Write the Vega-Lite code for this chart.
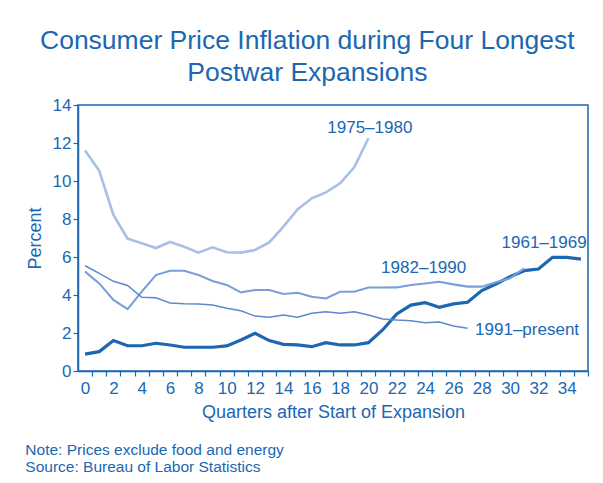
{
  "$schema": "https://vega.github.io/schema/vega-lite/v6.json",
  "background": "white",
  "padding": {"left": 25, "top": 26, "right": 10, "bottom": 5},
  "datasets": {
    "series": [
      {"s": "1961–1969", "q": 0, "v": 0.89}, {"s": "1961–1969", "q": 1, "v": 1.02}, {"s": "1961–1969", "q": 2, "v": 1.6}, {"s": "1961–1969", "q": 3, "v": 1.33}, {"s": "1961–1969", "q": 4, "v": 1.33}, {"s": "1961–1969", "q": 5, "v": 1.46}, {"s": "1961–1969", "q": 6, "v": 1.37}, {"s": "1961–1969", "q": 7, "v": 1.25}, {"s": "1961–1969", "q": 8, "v": 1.25}, {"s": "1961–1969", "q": 9, "v": 1.25}, {"s": "1961–1969", "q": 10, "v": 1.32}, {"s": "1961–1969", "q": 11, "v": 1.63}, {"s": "1961–1969", "q": 12, "v": 1.98}, {"s": "1961–1969", "q": 13, "v": 1.6}, {"s": "1961–1969", "q": 14, "v": 1.4}, {"s": "1961–1969", "q": 15, "v": 1.37}, {"s": "1961–1969", "q": 16, "v": 1.28}, {"s": "1961–1969", "q": 17, "v": 1.49}, {"s": "1961–1969", "q": 18, "v": 1.37}, {"s": "1961–1969", "q": 19, "v": 1.37}, {"s": "1961–1969", "q": 20, "v": 1.49}, {"s": "1961–1969", "q": 21, "v": 2.16}, {"s": "1961–1969", "q": 22, "v": 3.0}, {"s": "1961–1969", "q": 23, "v": 3.47}, {"s": "1961–1969", "q": 24, "v": 3.6}, {"s": "1961–1969", "q": 25, "v": 3.35}, {"s": "1961–1969", "q": 26, "v": 3.53}, {"s": "1961–1969", "q": 27, "v": 3.62}, {"s": "1961–1969", "q": 28, "v": 4.23}, {"s": "1961–1969", "q": 29, "v": 4.58}, {"s": "1961–1969", "q": 30, "v": 4.96}, {"s": "1961–1969", "q": 31, "v": 5.28}, {"s": "1961–1969", "q": 32, "v": 5.37}, {"s": "1961–1969", "q": 33, "v": 5.98}, {"s": "1961–1969", "q": 34, "v": 5.98}, {"s": "1961–1969", "q": 35, "v": 5.89},
      {"s": "1975–1980", "q": 0, "v": 11.6}, {"s": "1975–1980", "q": 1, "v": 10.54}, {"s": "1975–1980", "q": 2, "v": 8.21}, {"s": "1975–1980", "q": 3, "v": 6.96}, {"s": "1975–1980", "q": 4, "v": 6.72}, {"s": "1975–1980", "q": 5, "v": 6.47}, {"s": "1975–1980", "q": 6, "v": 6.79}, {"s": "1975–1980", "q": 7, "v": 6.54}, {"s": "1975–1980", "q": 8, "v": 6.23}, {"s": "1975–1980", "q": 9, "v": 6.51}, {"s": "1975–1980", "q": 10, "v": 6.25}, {"s": "1975–1980", "q": 11, "v": 6.23}, {"s": "1975–1980", "q": 12, "v": 6.37}, {"s": "1975–1980", "q": 13, "v": 6.77}, {"s": "1975–1980", "q": 14, "v": 7.6}, {"s": "1975–1980", "q": 15, "v": 8.5}, {"s": "1975–1980", "q": 16, "v": 9.09}, {"s": "1975–1980", "q": 17, "v": 9.4}, {"s": "1975–1980", "q": 18, "v": 9.88}, {"s": "1975–1980", "q": 19, "v": 10.72}, {"s": "1975–1980", "q": 20, "v": 12.25},
      {"s": "1982–1990", "q": 0, "v": 5.23}, {"s": "1982–1990", "q": 1, "v": 4.61}, {"s": "1982–1990", "q": 2, "v": 3.74}, {"s": "1982–1990", "q": 3, "v": 3.26}, {"s": "1982–1990", "q": 4, "v": 4.18}, {"s": "1982–1990", "q": 5, "v": 5.05}, {"s": "1982–1990", "q": 6, "v": 5.28}, {"s": "1982–1990", "q": 7, "v": 5.28}, {"s": "1982–1990", "q": 8, "v": 5.05}, {"s": "1982–1990", "q": 9, "v": 4.74}, {"s": "1982–1990", "q": 10, "v": 4.53}, {"s": "1982–1990", "q": 11, "v": 4.14}, {"s": "1982–1990", "q": 12, "v": 4.26}, {"s": "1982–1990", "q": 13, "v": 4.26}, {"s": "1982–1990", "q": 14, "v": 4.05}, {"s": "1982–1990", "q": 15, "v": 4.12}, {"s": "1982–1990", "q": 16, "v": 3.91}, {"s": "1982–1990", "q": 17, "v": 3.82}, {"s": "1982–1990", "q": 18, "v": 4.17}, {"s": "1982–1990", "q": 19, "v": 4.17}, {"s": "1982–1990", "q": 20, "v": 4.39}, {"s": "1982–1990", "q": 21, "v": 4.39}, {"s": "1982–1990", "q": 22, "v": 4.4}, {"s": "1982–1990", "q": 23, "v": 4.53}, {"s": "1982–1990", "q": 24, "v": 4.61}, {"s": "1982–1990", "q": 25, "v": 4.7}, {"s": "1982–1990", "q": 26, "v": 4.56}, {"s": "1982–1990", "q": 27, "v": 4.44}, {"s": "1982–1990", "q": 28, "v": 4.44}, {"s": "1982–1990", "q": 29, "v": 4.67}, {"s": "1982–1990", "q": 30, "v": 4.88}, {"s": "1982–1990", "q": 31, "v": 5.4},
      {"s": "1991–present", "q": 0, "v": 5.54}, {"s": "1991–present", "q": 1, "v": 5.14}, {"s": "1991–present", "q": 2, "v": 4.72}, {"s": "1991–present", "q": 3, "v": 4.5}, {"s": "1991–present", "q": 4, "v": 3.88}, {"s": "1991–present", "q": 5, "v": 3.85}, {"s": "1991–present", "q": 6, "v": 3.58}, {"s": "1991–present", "q": 7, "v": 3.54}, {"s": "1991–present", "q": 8, "v": 3.53}, {"s": "1991–present", "q": 9, "v": 3.47}, {"s": "1991–present", "q": 10, "v": 3.3}, {"s": "1991–present", "q": 11, "v": 3.17}, {"s": "1991–present", "q": 12, "v": 2.89}, {"s": "1991–present", "q": 13, "v": 2.83}, {"s": "1991–present", "q": 14, "v": 2.95}, {"s": "1991–present", "q": 15, "v": 2.83}, {"s": "1991–present", "q": 16, "v": 3.04}, {"s": "1991–present", "q": 17, "v": 3.12}, {"s": "1991–present", "q": 18, "v": 3.04}, {"s": "1991–present", "q": 19, "v": 3.12}, {"s": "1991–present", "q": 20, "v": 2.95}, {"s": "1991–present", "q": 21, "v": 2.74}, {"s": "1991–present", "q": 22, "v": 2.68}, {"s": "1991–present", "q": 23, "v": 2.65}, {"s": "1991–present", "q": 24, "v": 2.54}, {"s": "1991–present", "q": 25, "v": 2.58}, {"s": "1991–present", "q": 26, "v": 2.37}, {"s": "1991–present", "q": 27, "v": 2.25}
    ],
    "labels": [
      {"s": "1975–1980", "q": 20.1, "v": 12.8},
      {"s": "1982–1990", "q": 23.9, "v": 5.42},
      {"s": "1961–1969", "q": 32.4, "v": 6.76},
      {"s": "1991–present", "q": 31.2, "v": 2.18}
    ]
  },
  "title": {
    "text": ["Note: Prices exclude food and energy", "Source: Bureau of Labor Statistics"],
    "orient": "bottom",
    "anchor": "start",
    "frame": "bounds",
    "fontSize": 15.5,
    "lineHeight": 17,
    "font": "Liberation Sans",
    "fontWeight": "normal",
    "color": "#1b67b2",
    "offset": 21
  },
  "vconcat": [
    {
      "width": 510,
      "height": 266,
      "title": {
        "text": ["Consumer Price Inflation during Four Longest", "Postwar Expansions"],
        "anchor": "middle",
        "frame": "bounds",
        "fontSize": 26.5,
        "lineHeight": 32,
        "font": "Liberation Sans",
        "fontWeight": "normal",
        "color": "#1b67b2",
        "offset": 10
      },
      "encoding": {
        "x": {
          "field": "q", "type": "quantitative",
          "scale": {"domain": [-0.5, 35.5], "nice": false, "zero": false},
          "axis": {
            "title": "Quarters after Start of Expansion",
            "values": [0,1,2,3,4,5,6,7,8,9,10,11,12,13,14,15,16,17,18,19,20,21,22,23,24,25,26,27,28,29,30,31,32,33,34,35],
            "labelExpr": "datum.value % 2 === 0 ? datum.label : ''",
            "tickOffset": 7.083,
            "labelOffset": -7.083,
            "labelFlush": false,
            "labelOverlap": false,
            "labelBound": false,
            "tickSize": 5,
            "labelPadding": 4,
            "titlePadding": 7
          }
        },
        "y": {
          "field": "v", "type": "quantitative",
          "scale": {"domain": [0, 14], "nice": false},
          "axis": {
            "title": "Percent",
            "values": [0, 2, 4, 6, 8, 10, 12, 14],
            "labelOverlap": false,
            "labelBound": false,
            "labelFlush": false,
            "tickSize": 5,
            "labelPadding": 2,
            "titlePadding": 8
          }
        }
      },
      "layer": [
        {
          "data": {"name": "series"},
          "mark": {"type": "line"},
          "encoding": {
            "color": {
              "field": "s", "type": "nominal", "legend": null,
              "scale": {
                "domain": ["1961–1969", "1975–1980", "1982–1990", "1991–present"],
                "range": ["#1b67b2", "#a9bfe8", "#7b9ddb", "#5b88cf"]
              }
            },
            "strokeWidth": {
              "field": "s", "type": "nominal", "legend": null,
              "scale": {
                "domain": ["1961–1969", "1975–1980", "1982–1990", "1991–present"],
                "range": [3.2, 1.5, 1.6, 3.6]
              }
            }
          }
        },
        {
          "data": {"name": "labels"},
          "mark": {"type": "text", "align": "center", "baseline": "middle", "fontSize": 17, "font": "Liberation Sans", "color": "#1b67b2"},
          "encoding": {
            "text": {"field": "s"}
          }
        }
      ]
    }
  ],
  "config": {
    "font": "Liberation Sans",
    "view": {"stroke": "#1b67b2", "strokeWidth": 1.5},
    "axis": {
      "grid": false,
      "labelOverlap": false,
      "domainColor": "#1b67b2",
      "domainWidth": 1.5,
      "tickColor": "#1b67b2",
      "tickWidth": 1.2,
      "labelColor": "#1b67b2",
      "labelFont": "Liberation Sans",
      "labelFontSize": 17,
      "titleColor": "#1b67b2",
      "titleFont": "Liberation Sans",
      "titleFontSize": 18,
      "titleFontWeight": "normal"
    }
  }
}
